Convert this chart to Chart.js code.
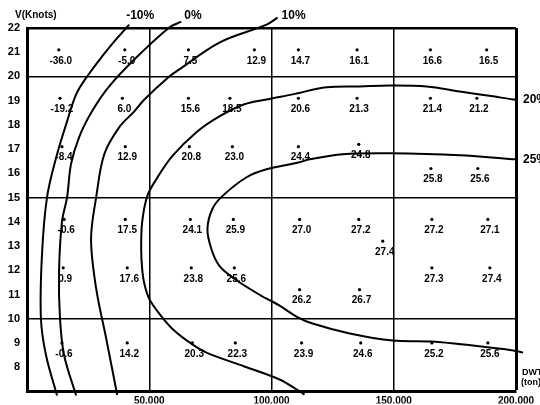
<!DOCTYPE html>
<html>
<head>
<meta charset="utf-8">
<script src="https://cdn.jsdelivr.net/npm/chart.js@4.4.1/dist/chart.umd.min.js"></script>
<style>
html, body { margin: 0; padding: 0; background: #fff; }
#wrap { width: 540px; height: 405px; position: relative; }
</style>
</head>
<body>
<div id="wrap"><canvas id="myChart"></canvas></div>
<script>
// sample points: DWT (1000 ton), speed (knots), value (%)
const dwt = [
  13, 40, 66, 93, 111, 135, 165, 188,
  13.5, 39, 66, 83, 111, 135, 165, 184,
  14.3, 40.2, 66.4, 84, 111, 135.7, 165.2, 184.4,
  15.2, 40.2, 66.8, 84.4, 111.5, 135.7, 165.6, 188.5,
  145.5,
  14.8, 41, 67.2, 84.8, 165.6, 189.3,
  111.5, 136,
  14.3, 41, 67.6, 85.2, 112.3, 136.5, 165.6, 188.5
]
const knots = [
  21.1, 21.1, 21.1, 21.1, 21.1, 21.1, 21.1, 21.1,
  19.1, 19.1, 19.1, 19.1, 19.1, 19.1, 19.1, 19.1,
  17.1, 17.1, 17.1, 17.1, 17.1, 17.2, 16.2, 16.2,
  14.1, 14.1, 14.1, 14.1, 14.1, 14.1, 14.1, 14.1,
  13.2,
  12.1, 12.1, 12.1, 12.1, 12.1, 12.1,
  11.2, 11.2,
  9.0, 9.0, 9.0, 9.0, 9.0, 9.0, 9.0, 9.0
]
const values = [
  -36.0, -5.0, 7.5, 12.9, 14.7, 16.1, 16.6, 16.5,
  -19.2, 6.0, 15.6, 18.5, 20.6, 21.3, 21.4, 21.2,
  -8.4, 12.9, 20.8, 23.0, 24.4, 24.8, 25.8, 25.6,
  -0.6, 17.5, 24.1, 25.9, 27.0, 27.2, 27.2, 27.1,
  27.4,
  0.9, 17.6, 23.8, 25.6, 27.3, 27.4,
  26.2, 26.7,
  -0.6, 14.2, 20.3, 22.3, 23.9, 24.6, 25.2, 25.6
]

// contour lines, [DWT (1000 ton), knots]
const contourNames = ['-10%', '0%', '10%', '20%', '25%']
const lineM10 = [[41.8,22.14],[33.6,21.19],[24.6,20.0],[20.1,19.26],[16.0,18.02],[12.3,16.79],[8.2,15.02],[6.1,12.59],[5.7,10.0],[7.8,8.48],[12.3,6.83]]
const line0 = [[63.1,22.26],[58.2,22.02],[44.7,20.78],[33.6,19.59],[26.6,18.56],[21.3,17.49],[18.0,16.38],[16.4,15.02],[14.3,14.0],[13.1,11.93],[13.5,10.0],[15.2,8.48],[20.1,6.83]]
const line10 = [[102.5,22.43],[98.0,22.14],[78.7,21.4],[62.3,20.29],[58.2,20.0],[48.0,19.05],[43.9,18.56],[37.7,17.9],[31.6,16.79],[28.3,15.02],[26.2,13.29],[28.3,11.24],[32.4,9.18],[36.9,6.85]]
const line20 = [[200.8,19.05],[198.8,19.05],[190.6,19.18],[177.0,19.38],[163.5,19.59],[148.4,19.63],[136.1,19.59],[122.5,19.55],[108.6,19.26],[98.0,19.05],[88.9,18.85],[78.7,18.35],[69.3,17.7],[59.4,16.71],[52.9,15.76],[49.2,15.06],[47.1,13.99],[46.7,12.88],[47.1,12.06],[48.0,11.44],[50.0,10.82],[54.1,10.21],[59.4,9.59],[67.2,8.97],[73.4,8.6],[88.9,8.03],[103.3,7.49],[111.5,7.0],[113.5,6.87]]
const line25 = [[200.8,16.58],[198.8,16.58],[177.0,16.75],[148.4,16.83],[129.1,16.79],[115.6,16.58],[111.5,16.46],[98.0,16.17],[89.8,15.84],[79.9,15.06],[75.8,14.53],[73.8,13.7],[75.4,12.88],[78.7,12.18],[84.8,11.65],[95.1,10.99],[103.3,10.54],[110.2,10.09],[116.8,9.8],[132.0,9.39],[149.6,9.1],[165.6,9.06],[182.4,8.89],[198.8,8.69],[202.9,8.6]]
const contours = [lineM10, line0, line10, line20, line25]

const FONT = '"Liberation Sans", Arial, sans-serif'

// where each contour name sits relative to the start of its line (px)
const nameOffset = [[-3, -9], [3, -6], [4, -2], [5, 0], [5, 0]]

const textPlugin = {
  id: 'texts',
  afterDatasetsDraw(chart) {
    const ctx = chart.ctx
    const area = chart.chartArea
    ctx.save()
    ctx.fillStyle = '#000'
    ctx.textBaseline = 'middle'

    // value under each point
    ctx.font = 'bold 10px ' + FONT
    ctx.textAlign = 'center'
    chart.getDatasetMeta(0).data.forEach((pt, i) => {
      ctx.fillText(values[i].toFixed(1), pt.x + 2, pt.y + 11)
    })

    // contour names
    ctx.font = 'bold 12px ' + FONT
    ctx.textAlign = 'left'
    contourNames.forEach((name, i) => {
      const first = chart.getDatasetMeta(i + 1).data[0]
      ctx.fillText(name, first.x + nameOffset[i][0], first.y + nameOffset[i][1])
    })

    // axis titles
    ctx.font = 'bold 10px ' + FONT
    ctx.fillText('V(Knots)', area.left - 12, area.top - 13)
    ctx.font = 'bold 9px ' + FONT
    ctx.fillText('DWT', area.right + 6, area.bottom - 19)
    ctx.fillText('(ton)', area.right + 5, area.bottom - 9)
    ctx.restore()
  }
}

const datasets = [{
  data: dwt.map((d, i) => ({ x: d, y: knots[i] })),
  showLine: false,
  pointRadius: 1.6,
  pointBackgroundColor: '#000',
  pointBorderWidth: 0
}]
contours.forEach(c => {
  datasets.push({
    data: c.map(p => ({ x: p[0], y: p[1] })),
    showLine: true,
    borderColor: '#000',
    borderWidth: 2,
    pointRadius: 0,
    tension: 0.35,
    clip: false
  })
})

new Chart(document.getElementById('myChart'), {
  type: 'scatter',
  data: { datasets },
  options: {
    responsive: true,
    maintainAspectRatio: false,
    animation: false,
    layout: { padding: { top: 28, right: 24, left: 0, bottom: 0 } },
    plugins: {
      legend: { display: false },
      tooltip: { enabled: false }
    },
    scales: {
      x: {
        type: 'linear',
        min: 0,
        max: 200,
        afterFit: s => { s.height = 12 },
        grid: {
          drawTicks: false,
          color: c => c.tick && c.tick.value === 0 ? 'rgba(0,0,0,0)' : '#000',
          lineWidth: c => c.tick && c.tick.value === 200 ? 3 : 1.5
        },
        border: { color: '#000', width: 3 },
        ticks: {
          stepSize: 50,
          padding: 4,
          maxRotation: 0,
          autoSkip: false,
          color: '#000',
          font: { family: FONT, size: 10, weight: 'bold' },
          callback: v => v === 0 ? '' : (v * 1000).toLocaleString('en-US')
        }
      },
      y: {
        type: 'linear',
        min: 7,
        max: 22,
        afterFit: s => { s.width = 27 },
        grid: {
          drawTicks: false,
          color: c => [10, 15, 20, 22].includes(c.tick && c.tick.value) ? '#000' : 'rgba(0,0,0,0)',
          lineWidth: c => c.tick && c.tick.value === 22 ? 2.5 : 1.5
        },
        border: { color: '#000', width: 3 },
        ticks: {
          stepSize: 1,
          padding: 7,
          color: '#000',
          font: { family: FONT, size: 11, weight: 'bold' },
          callback: v => v === 7 ? '' : v
        }
      }
    }
  },
  plugins: [textPlugin]
})
</script>
</body>
</html>
